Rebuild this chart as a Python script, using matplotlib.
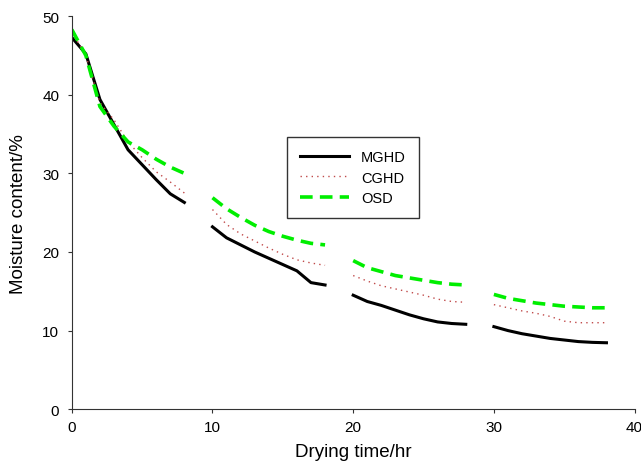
import numpy as np
import matplotlib
matplotlib.use("Agg")
import matplotlib.pyplot as plt

plt.rcParams['font.family'] = ['Liberation Sans', 'DejaVu Sans']

nan = np.nan
# drying time in hours, gaps at 9, 19, 29 (overnight breaks)
hours = list(range(0, 39))

mghd = [47.3, 45.2, 39.4, 36.2, 33.0, 31.1, 29.2, 27.4, 26.3, nan,
        23.2, 21.8, 20.9, 20.0, 19.2, 18.4, 17.6, 16.1, 15.8, nan,
        14.5, 13.7, 13.2, 12.6, 12.0, 11.5, 11.1, 10.9, 10.8, nan,
        10.5, 10.0, 9.6, 9.3, 9.0, 8.8, 8.6, 8.5, 8.45]
cghd = [48.0, 45.0, 39.0, 36.8, 34.0, 32.0, 30.2, 28.9, 27.5, nan,
        25.4, 23.5, 22.3, 21.4, 20.5, 19.7, 19.0, 18.6, 18.3, nan,
        17.0, 16.3, 15.7, 15.3, 14.9, 14.5, 14.0, 13.7, 13.6, nan,
        13.3, 12.9, 12.5, 12.2, 11.8, 11.2, 11.0, 11.0, 11.0]
osd = [48.3, 45.0, 38.5, 36.0, 34.0, 33.0, 31.8, 30.8, 30.0, nan,
       26.9, 25.5, 24.4, 23.4, 22.6, 22.0, 21.5, 21.1, 20.9, nan,
       18.9, 18.0, 17.5, 17.0, 16.7, 16.4, 16.1, 15.9, 15.8, nan,
       14.6, 14.1, 13.8, 13.5, 13.3, 13.1, 13.0, 12.9, 12.9]

fig = plt.figure(figsize=(6.41, 4.64), dpi=100)
ax = fig.add_axes([0.112, 0.116, 0.878, 0.847])

ax.plot(hours, mghd, color='black', lw=2.2, label='MGHD')
ax.plot(hours, cghd, color='#c04a4a', lw=1.0, ls=(0, (1, 3)), label='CGHD')
ax.plot(hours, osd, color='#00ee00', lw=2.6, ls=(0, (3.5, 2)), label='OSD')

ax.set_xlim(0, 40)
ax.set_ylim(0, 50)
ax.set_xticks([0, 10, 20, 30, 40])
ax.set_yticks([0, 10, 20, 30, 40, 50])
ax.spines['top'].set_visible(False)
ax.spines['right'].set_visible(False)
for s in ['left', 'bottom']:
    ax.spines[s].set_color('#333333')
ax.tick_params(direction='out', length=3, color='#333333', labelsize=11)
ax.tick_params(axis='x', pad=5)
ax.tick_params(axis='y', pad=6)

ax.set_xlabel('Drying time/hr', fontsize=13.5, labelpad=6)
ax.set_ylabel('Moisture content/%', fontsize=13.5, labelpad=11)

leg = ax.legend(loc='upper left', bbox_to_anchor=(0.382, 0.693), fontsize=10.5,
                handlelength=3.4, fancybox=False, framealpha=1, edgecolor='#333333',
                borderpad=0.9, labelspacing=0.45, borderaxespad=0)
leg.get_frame().set_linewidth(1.0)

fig.savefig('out.png', dpi=100)
